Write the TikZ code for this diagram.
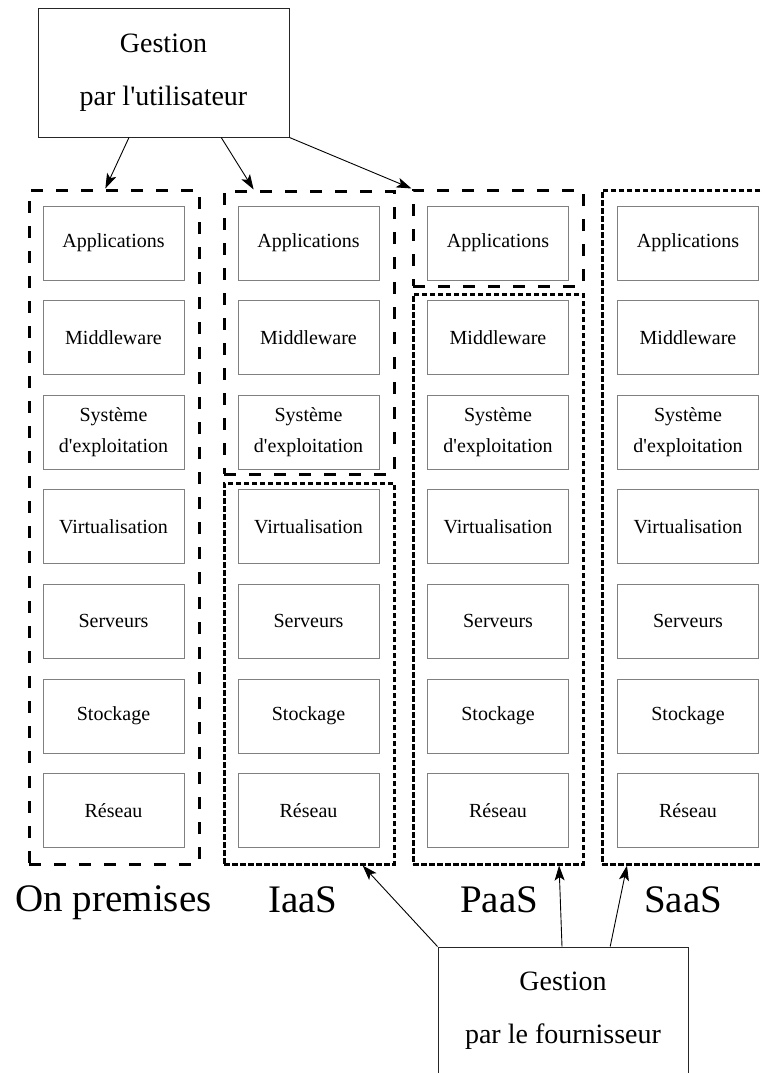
\documentclass[tikz,border=0pt]{standalone}
\usepackage{fontspec}
\setmainfont{Liberation Serif}
\usetikzlibrary{arrows.meta,calc}
\begin{document}
\begin{tikzpicture}[x=1pt,y=-1pt,
  layer/.style={draw=black!50, line width=1pt, minimum width=141pt, minimum height=74pt, inner sep=0pt, font=\fontsize{20}{31}\selectfont, align=center},
  mgmt/.style={draw=black!85, line width=1pt, inner sep=0pt, font=\fontsize{28}{53}\selectfont, align=center},
  dashgroup/.style={draw, line width=3pt, dash pattern=on 12pt off 13pt, inner sep=0pt, minimum width=170pt},
  dotgroup/.style={draw, line width=3pt, dash pattern=on 5.5pt off 2.5pt, inner sep=0pt, minimum width=170pt},
  lbl/.style={font=\fontsize{39}{45}\selectfont, anchor=base, inner sep=0pt},
  arr/.style={-{Stealth[length=15pt,width=10pt,inset=3.5pt]}, line width=0.9pt}]
\useasboundingbox (0,0) rectangle (761,1073);
\clip (0,0) rectangle (761,1073);

% management boxes
\node[mgmt, minimum width=251pt, minimum height=128pt] (user) at (163.5,73) {Gestion\\par l\textquotesingle{}utilisateur};
\node[mgmt, minimum width=250pt, minimum height=128pt] (prov) at (563,1011) {Gestion\\par le fournisseur};

% groups
\node[dashgroup, minimum height=674pt] (onprem) at (114,527) {};
\node[dashgroup, minimum height=283pt] (iaasU) at (309,332.5) {};
\node[dotgroup, minimum height=381pt] (iaasL) at (309,673.5) {};
\node[dashgroup, minimum height=96pt] (paasU) at (498,238) {};
\node[dotgroup, minimum height=570pt] (paasL) at (498,579) {};
\node[dotgroup, minimum height=674pt] (saas) at (687,527) {};

% layers
\foreach \col/\cx in {a/113.5,b/308.5,c/498,d/688} {
  \foreach \row/\cy/\txt in {1/243/Applications, 2/337.6/Middleware, 3/432.2/{Système\\d\textquotesingle{}exploitation}, 4/526.8/Virtualisation, 5/621.4/Serveurs, 6/716/Stockage, 7/810.6/Réseau} {
    \node[layer] (\col\row) at (\cx,\cy) {\txt};
  }
}

% labels
\node[lbl] (lon) at (113.5,911) {On premises};
\node[lbl] (liaas) at (303,912) {IaaS};
\node[lbl] (lpaas) at (499,912) {PaaS};
\node[lbl] (lsaas) at (683,912) {SaaS};

% arrows
\draw[arr] ($(user.south west)!0.363!(user.south east)$) -- ($(onprem.north west)!0.45!(onprem.north east)$);
\draw[arr] ($(user.south west)!0.729!(user.south east)$) -- ($(iaasU.north west)!0.18!(iaasU.north east)$);
\draw[arr] (user.south east) -- (paasU.north west);
\draw[arr] (prov.north west) -- ($(iaasL.south west)!0.81!(iaasL.south east)$);
\draw[arr] ($(prov.north west)!0.496!(prov.north east)$) -- ($(paasL.south west)!0.853!(paasL.south east)$);
\draw[arr] ($(prov.north west)!0.688!(prov.north east)$) -- ($(saas.south west)!0.153!(saas.south east)$);
\end{tikzpicture}
\end{document}
